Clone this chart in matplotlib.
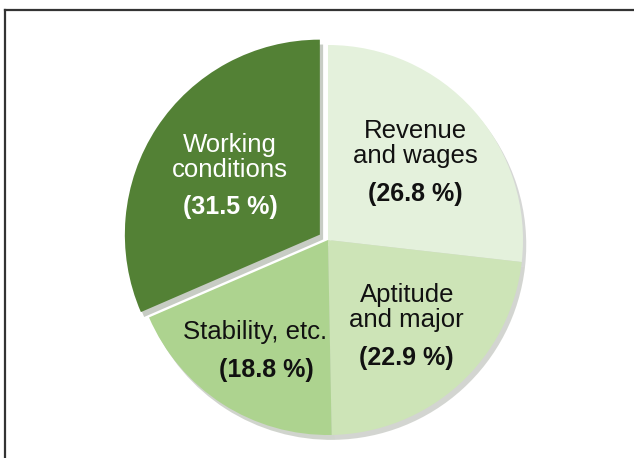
import numpy as np
import matplotlib
matplotlib.use("Agg")
import matplotlib.pyplot as plt
from matplotlib.lines import Line2D

# data
labels = ["Revenue\nand wages", "Aptitude\nand major", "Stability, etc.", "Working\nconditions"]
shares = [26.8, 22.9, 18.8, 31.5]
colors = ["#e4f1dc", "#cde4b7", "#add38f", "#538135"]
text_colors = ["#111111", "#111111", "#111111", "#ffffff"]
explode = [0, 0, 0, 0.05]

plt.rcParams["font.family"] = ["Liberation Sans", "DejaVu Sans"]

fig = plt.figure(figsize=(6.34, 4.58), dpi=100)
ax = fig.add_axes([133 / 634, 23 / 458, 390 / 634, 390 / 458])

wedges, _ = ax.pie(
    shares,
    colors=colors,
    explode=explode,
    startangle=90,
    counterclock=False,
    radius=1.0,
    wedgeprops={"linewidth": 0},
    shadow={"ox": 0.012, "oy": -0.018, "shade": 0.6, "alpha": 0.25},
)
ax.set_xlim(-1, 1)
ax.set_ylim(-1, 1)
ax.set_aspect("equal")
ax.axis("off")

# labels placed from the wedge angles (measured from the pie centre)
for w, name, val, tc in zip(wedges, labels, shares, text_colors):
    ang = np.deg2rad((w.theta1 + w.theta2) / 2)
    x = 0.6 * np.cos(ang)
    y = 0.6 * np.sin(ang)
    one_line = "\n" not in name
    ax.text(x - (0.05 if one_line else 0), y - 0.03, name, ha="center", va="bottom",
            color=tc, fontsize=18.5, linespacing=1.05)
    ax.text(x + (0.01 if one_line else 0), y - 0.10, f"({val} %)", ha="center", va="top",
            color=tc, fontsize=18, fontweight="bold")

# frame of the original image
fig.add_artist(Line2D([5 / 634, 1], [1 - 10 / 458, 1 - 10 / 458],
                      transform=fig.transFigure, color="#333333", lw=1.6))
fig.add_artist(Line2D([5 / 634, 5 / 634], [0, 1 - 10 / 458],
                      transform=fig.transFigure, color="#333333", lw=1.6))

fig.savefig("out.png", dpi=100)
